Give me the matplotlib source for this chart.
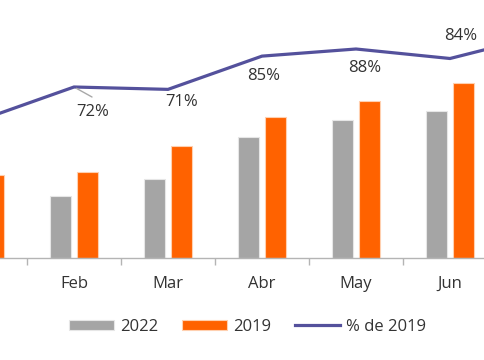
import matplotlib.pyplot as plt
import numpy as np

meses = ['Ene', 'Feb', 'Mar', 'Abr', 'May', 'Jun', 'Jul']
v2022 = [48, 62, 79, 121, 138, 147, 170]
v2019 = [83, 86, 112, 141, 157, 175, 180]
pct = [58, 72, 71, 85, 88, 84, 94]
etiquetas = ['58%', '72%', '71%', '85%', '88%', '84%', '94%']

gris = '#a5a5a5'
naranja = '#ff6200'
morado = '#54519c'

plt.rcParams['font.family'] = ['Open Sans', 'DejaVu Sans']

fig = plt.figure(figsize=(4.85, 3.6), dpi=100)
ax = fig.add_axes([0, 1 - 258 / 360, 1, 258 / 360])
ax2 = ax.twinx()

x = np.arange(len(meses))
w = 0.223
off = 0.144
ax.bar(x - off, v2022, w, color=gris, edgecolor='#e6e6e6', linewidth=0.8, label='2022', zorder=2)
ax.bar(x + off, v2019, w, color=naranja, edgecolor='#ffd0b0', linewidth=0.8, label='2019', zorder=2)

ax2.plot(x, pct, color=morado, lw=2.3, label='% de 2019', solid_joinstyle='miter')

# desplazamientos de las etiquetas (px)
offs = [(10, -16), (19, -25), (14, -13), (2, -20), (9, -19), (11, 22), (10, 20)]
for i, (t, (dx, dy)) in enumerate(zip(etiquetas, offs)):
    ax2.annotate(t, (x[i], pct[i]), xytext=(dx * 0.72, dy * 0.72), textcoords='offset points',
                 ha='center', va='center', fontsize=12, color='#333333')

# linea guia de la etiqueta de febrero
ax2.annotate('', (x[1], pct[1]), xytext=(18 * 0.72, -10 * 0.72), textcoords='offset points',
             arrowprops=dict(arrowstyle='-', color='#a8a8a8', lw=1, shrinkA=0, shrinkB=2))

for a in (ax, ax2):
    for s in ['top', 'right', 'left']:
        a.spines[s].set_visible(False)
    a.set_yticks([])
ax2.spines['bottom'].set_visible(False)
ax.spines['bottom'].set_color('#b4b4b4')
ax.spines['bottom'].set_linewidth(1)

ax.set_xticks(x + 0.5)
ax.set_xticklabels([])
ax.set_xticks(x, minor=True)
ax.set_xticklabels(meses, minor=True, fontsize=12, color='#333333')
ax.tick_params(axis='x', which='major', length=5, color='#b4b4b4', width=1)
ax.tick_params(axis='x', which='minor', length=0, pad=13)

# vista recortada como en la imagen original
xl = 20 / 94
ax.set_xlim(xl, xl + 485 / 94)
ax.set_ylim(0, 258)
ax2.set_ylim(0, 258 / 2.375)

h1, l1 = ax.get_legend_handles_labels()
h2, l2 = ax2.get_legend_handles_labels()
fig.legend(h1 + h2, l1 + l2, loc='center', bbox_to_anchor=(0.51, 1 - 327 / 360), ncol=3,
           frameon=False, fontsize=12, handlelength=2.7, handleheight=0.6,
           columnspacing=1.45, handletextpad=0.35, labelcolor='#333333')

fig.savefig('out.png', dpi=100)
